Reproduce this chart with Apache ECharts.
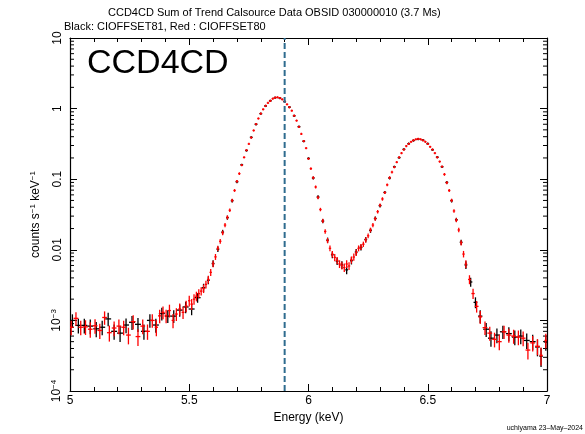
<!DOCTYPE html>
<html><head><meta charset="utf-8">
<script src="https://cdn.jsdelivr.net/npm/echarts@6/dist/echarts.min.js"></script>
<style>html,body{margin:0;padding:0;background:#fff}#c{width:585px;height:434px}</style>
</head><body><div id="c"></div>
<script>
const titleText = 'CCD4CD Sum of Trend Calsource Data OBSID 030000010 (3.7 Ms)';
const subText = 'Black: CIOFFSET81, Red : CIOFFSET80';
const panelLabel = 'CCD4CD';
const footerText = 'uchiyama 23\u2013May\u20132024';
const xName = 'Energy (keV)';
const xTicks = [5, 5.5, 6, 6.5, 7];
const yTicks = [1e-4, 1e-3, 0.01, 0.1, 1, 10];
const refLineE = 5.9;

// [energy keV, counts s^-1 keV^-1, half bin width keV, error %]
const redData = [
[5.005,8.0e-4,0.01,22],[5.025,1.07e-3,0.01,20],[5.045,8.0e-4,0.01,22],[5.065,8.1e-4,0.01,22],
[5.085,7.5e-4,0.01,23],[5.105,8.4e-4,0.01,22],[5.125,7.2e-4,0.01,23],[5.145,1.1e-3,0.01,20],
[5.165,6.7e-4,0.01,24],[5.185,7.8e-4,0.01,22],[5.205,8.3e-4,0.01,22],[5.225,8.0e-4,0.01,22],
[5.245,6.2e-4,0.01,25],[5.265,9.6e-4,0.01,21],[5.285,5.9e-4,0.01,25],[5.305,8.3e-4,0.01,22],
[5.325,7.0e-4,0.01,23],[5.345,1.0e-3,0.01,20],[5.362,8.0e-4,0.007,24],[5.376,1.16e-3,0.007,20],
[5.39,1.3e-3,0.007,19],[5.403,1.16e-3,0.006,20],[5.417,1.38e-3,0.006,19],[5.432,1.0e-3,0.006,21],
[5.446,1.23e-3,0.006,19],[5.46,1.45e-3,0.006,18],[5.474,1.3e-3,0.006,18],[5.487,1.6e-3,0.006,17],
[5.5,1.9e-3,0.005,16],[5.51,1.7e-3,0.005,16],[5.52,2.0e-3,0.005,15],[5.53,2.2e-3,0.005,14],
[5.54,2.4e-3,0.005,13],[5.55,2.6e-3,0.005,12],
[5.56,0.00282,0.005,12],[5.57,0.00324,0.005,11],[5.58,0.0038,0.005,11],[5.59,0.00479,0.005,10],
[5.60,0.00631,0.005,9],[5.61,0.00794,0.005,8],[5.62,0.0105,0.005,7],[5.63,0.0132,0.005,6],
[5.64,0.0174,0.005,6],[5.65,0.0224,0.005,5],[5.66,0.0288,0.005,5],[5.67,0.0363,0.005,4],
[5.68,0.0501,0.005,4],[5.69,0.0692,0.005,3],[5.70,0.0933,0.005,3],[5.71,0.120,0.005,3],
[5.72,0.158,0.005,2],[5.73,0.204,0.005,2],[5.74,0.257,0.005,2],[5.75,0.316,0.005,2],
[5.76,0.389,0.005,2],[5.77,0.490,0.005,2],[5.78,0.603,0.005,2],[5.79,0.724,0.005,2],
[5.80,0.851,0.005,2],[5.81,0.977,0.005,2],[5.82,1.096,0.005,2],[5.83,1.202,0.005,2],
[5.84,1.288,0.005,2],[5.85,1.380,0.005,2],[5.86,1.429,0.005,2],[5.87,1.445,0.005,2],
[5.88,1.413,0.005,2],[5.89,1.349,0.005,2],[5.90,1.259,0.005,2],[5.91,1.148,0.005,2],
[5.92,1.047,0.005,2],[5.93,0.933,0.005,2],[5.94,0.794,0.005,2],[5.95,0.676,0.005,2],
[5.96,0.550,0.005,2],[5.97,0.437,0.005,2],[5.98,0.347,0.005,2],[5.99,0.275,0.005,2],
[6.00,0.195,0.005,2],[6.01,0.141,0.005,3],[6.02,0.105,0.005,3],[6.03,0.0776,0.005,3],
[6.04,0.0550,0.005,4],[6.05,0.0372,0.005,4],[6.06,0.0257,0.005,5],[6.07,0.0182,0.005,6],
[6.08,0.0135,0.005,7],[6.09,0.0105,0.005,8],[6.10,0.0087,0.005,9],[6.11,0.0078,0.005,10],
[6.12,0.0071,0.005,10],[6.13,0.0063,0.005,11],[6.14,0.0060,0.005,11],[6.15,0.0056,0.005,12],
[6.16,0.0063,0.005,11],[6.17,0.0059,0.005,11],[6.18,0.0072,0.005,10],[6.19,0.0079,0.005,10],
[6.20,0.0091,0.005,9],[6.21,0.0105,0.005,8],[6.22,0.0110,0.005,8],[6.23,0.0120,0.005,7],
[6.24,0.0138,0.005,7],[6.25,0.0158,0.005,6],[6.26,0.0191,0.005,6],[6.27,0.0224,0.005,5],
[6.28,0.0275,0.005,5],[6.29,0.0347,0.005,4],[6.30,0.0427,0.005,4],[6.31,0.0525,0.005,4],
[6.32,0.0646,0.005,3],[6.33,0.0832,0.005,3],[6.34,0.105,0.005,3],[6.35,0.126,0.005,3],
[6.36,0.148,0.005,2],[6.37,0.174,0.005,2],[6.38,0.204,0.005,2],[6.39,0.234,0.005,2],
[6.40,0.263,0.005,2],[6.41,0.295,0.005,2],[6.42,0.316,0.005,2],[6.43,0.339,0.005,2],
[6.44,0.355,0.005,2],[6.45,0.367,0.005,2],[6.46,0.372,0.005,2],[6.47,0.367,0.005,2],
[6.48,0.355,0.005,2],[6.49,0.339,0.005,2],[6.50,0.316,0.005,2],[6.51,0.288,0.005,2],
[6.52,0.263,0.005,2],[6.53,0.234,0.005,2],[6.54,0.204,0.005,2],[6.55,0.178,0.005,2],
[6.56,0.151,0.005,2],[6.57,0.117,0.005,3],[6.58,0.0891,0.005,3],[6.59,0.0692,0.005,3],
[6.60,0.0501,0.005,4],[6.61,0.0355,0.005,4],[6.62,0.0263,0.005,5],[6.63,0.0191,0.005,6],
[6.64,0.0126,0.005,7],[6.65,0.0087,0.005,9],[6.66,0.0063,0.005,11],
[6.675,0.0038,0.006,13],[6.69,0.0024,0.007,15],[6.705,0.00158,0.008,17],[6.72,0.00112,0.008,19],
[6.74,0.00079,0.01,20],[6.76,0.00066,0.01,21],[6.78,0.00054,0.01,22],[6.80,0.00050,0.01,23],
[6.82,0.00069,0.01,20],[6.84,0.00062,0.01,21],[6.86,0.00060,0.01,21],[6.88,0.00058,0.01,22],
[6.90,0.00056,0.01,22],[6.92,0.00038,0.01,25],[6.94,0.00048,0.01,23],[6.96,0.00043,0.01,24],
[6.975,0.00032,0.007,27],[6.995,0.00052,0.006,22]
];

const blackData = [
[5.01,1.0e-3,0.0125,20],[5.035,8.5e-4,0.0125,22],[5.06,8.5e-4,0.0125,22],[5.085,8.3e-4,0.0125,22],
[5.11,7.6e-4,0.0125,23],[5.135,8.0e-4,0.0125,22],[5.16,1.05e-3,0.0125,20],[5.185,7.0e-4,0.0125,23],
[5.21,6.6e-4,0.0125,24],[5.235,8.6e-4,0.0125,22],[5.26,9.4e-4,0.0125,21],[5.285,8.8e-4,0.0125,21],
[5.31,7.0e-4,0.0125,23],[5.335,1.0e-3,0.0125,20],[5.36,8.6e-4,0.0125,21],[5.385,1.25e-3,0.0125,19],
[5.41,1.15e-3,0.0125,19],[5.435,1.15e-3,0.0125,19],[5.46,1.4e-3,0.0125,18],[5.485,1.55e-3,0.0125,17],
[5.51,1.45e-3,0.0125,17],[5.535,2.1e-3,0.0125,14],[5.56,2.9e-3,0.008,12],
[5.58,0.0037,0.006,11],[5.60,0.0064,0.006,9],[5.62,0.0102,0.006,7],[5.64,0.0178,0.006,6],
[5.66,0.0285,0.006,5],[5.68,0.0495,0.006,4],[5.70,0.092,0.006,3],[5.72,0.160,0.006,2],
[5.74,0.255,0.006,2],[5.76,0.392,0.006,2],[5.78,0.600,0.006,2],[5.80,0.848,0.006,2],
[5.82,1.09,0.006,2],[5.84,1.29,0.006,2],[5.86,1.43,0.006,2],[5.88,1.41,0.006,2],
[5.90,1.26,0.006,2],[5.92,1.05,0.006,2],[5.94,0.79,0.006,2],[5.96,0.555,0.006,2],
[5.98,0.345,0.006,2],[6.00,0.197,0.006,2],[6.02,0.104,0.006,3],[6.04,0.056,0.006,4],
[6.06,0.0255,0.006,5],[6.08,0.0137,0.006,7],[6.10,0.0085,0.006,9],[6.12,0.0069,0.006,10],
[6.14,0.0061,0.006,11],[6.16,0.0052,0.006,12],[6.18,0.0070,0.006,10],[6.20,0.0093,0.006,9],
[6.22,0.0108,0.006,8],[6.24,0.0140,0.006,7],[6.26,0.0188,0.006,6],[6.28,0.0278,0.006,5],
[6.30,0.0422,0.006,4],[6.32,0.0650,0.006,3],[6.34,0.104,0.006,3],[6.36,0.150,0.006,2],
[6.38,0.202,0.006,2],[6.40,0.265,0.006,2],[6.42,0.318,0.006,2],[6.44,0.353,0.006,2],
[6.46,0.370,0.006,2],[6.48,0.357,0.006,2],[6.50,0.318,0.006,2],[6.52,0.261,0.006,2],
[6.54,0.205,0.006,2],[6.56,0.150,0.006,2],[6.58,0.090,0.006,3],[6.60,0.0495,0.006,4],
[6.62,0.0266,0.006,5],[6.64,0.0128,0.006,7],[6.66,0.0061,0.006,11],
[6.68,0.0035,0.007,13],[6.70,0.0018,0.008,16],[6.72,0.00115,0.009,19],[6.745,0.00075,0.0125,21],
[6.765,0.00056,0.0125,23],[6.79,0.00062,0.0125,22],[6.815,0.00069,0.0125,20],[6.84,0.00065,0.0125,21],
[6.865,0.00058,0.0125,22],[6.89,0.00060,0.0125,22],[6.915,0.00052,0.0125,23],[6.94,0.00050,0.0125,23],
[6.96,0.00042,0.01,25],[6.975,0.00031,0.007,28],[6.995,0.00049,0.006,23]
];

const FONT = '"Liberation Sans", Arial, Helvetica, sans-serif';

function errRender(color) {
  return function (params, api) {
    const e = api.value(0), v = api.value(1), de = api.value(2), dv = api.value(3) / 100;
    const l = api.coord([e - de, v]), r = api.coord([e + de, v]);
    const t = api.coord([e, v * (1 + dv)]), b = api.coord([e, v * (1 - dv)]);
    const st = { stroke: color, lineWidth: 1.3 };
    return { type: 'group', children: [
      { type: 'line', shape: { x1: l[0], y1: l[1], x2: r[0], y2: r[1] }, style: st },
      { type: 'line', shape: { x1: t[0], y1: t[1] - 0.5, x2: b[0], y2: b[1] + 0.5 }, style: st }
    ]};
  };
}

// minor ticks of log axis (2..9 x 10^k), axis decoration
const yMinor = [];
for (let k = -4; k < 1; k++) for (let m = 2; m <= 9; m++) yMinor.push([5, m * Math.pow(10, k)]);

function supLabel(v) {
  const p = Math.round(Math.log10(v));
  if (p >= -2) return '{b|' + ({1:'10',0:'1','-1':'0.1','-2':'0.01'})[p] + '}';
  return '{b|10}{s|' + (p === -3 ? '\u22123' : '\u22124') + '}';
}

const chart = echarts.init(document.getElementById('c'), null, { renderer: 'canvas' });
const grid = { left: 70, right: 38, top: 38, bottom: 43 };
const axisLine = { show: true, lineStyle: { color: '#000', width: 1.2 } };
chart.setOption({
  animation: false,
  backgroundColor: '#fff',
  grid: grid,
  graphic: [
    { type: 'text', left: 108, top: 7, style: { text: titleText, font: '11px ' + FONT, fill: '#000' } },
    { type: 'text', left: 64, top: 21, style: { text: subText, font: '11px ' + FONT, fill: '#000' } },
    { type: 'text', left: 87, top: 47, style: { text: panelLabel, font: '34px ' + FONT, fill: '#000' } },
    { type: 'text', right: 2, top: 425, style: { text: footerText, font: '7px ' + FONT, fill: '#000' } }
  ],
  xAxis: [
    { type: 'value', min: xTicks[0], max: xTicks[xTicks.length - 1], interval: 0.5, position: 'bottom',
      name: xName, nameLocation: 'middle', nameGap: 20,
      nameTextStyle: { fontFamily: FONT, fontSize: 12, color: '#000' },
      axisLine: axisLine, splitLine: { show: false },
      axisTick: { inside: true, length: 7, lineStyle: { color: '#000' } },
      minorTick: { show: true, splitNumber: 5, length: 4, lineStyle: { color: '#000' } },
      axisLabel: { fontFamily: FONT, fontSize: 12, color: '#000', margin: 4,
        formatter: v => String(v) } },
    { type: 'value', min: xTicks[0], max: xTicks[xTicks.length - 1], interval: 0.5, position: 'top',
      axisLine: axisLine, splitLine: { show: false },
      axisTick: { inside: true, length: 7, lineStyle: { color: '#000' } },
      minorTick: { show: true, splitNumber: 5, length: 4, lineStyle: { color: '#000' } },
      axisLabel: { show: false } }
  ],
  yAxis: [
    { type: 'log', logBase: 10, min: yTicks[0], max: yTicks[yTicks.length - 1], position: 'left',
      name: 'counts s{s|\u22121} keV{s|\u22121}', nameLocation: 'middle', nameGap: 27,
      nameTextStyle: { fontFamily: FONT, fontSize: 12, color: '#000',
        rich: { s: { fontFamily: FONT, fontSize: 8, color: '#000', padding: [0, 0, 6, 0] } } },
      axisLine: axisLine, splitLine: { show: false },
      axisTick: { inside: true, length: 7, lineStyle: { color: '#000' } },
      axisLabel: { rotate: 90, margin: 6, formatter: supLabel,
        rich: { b: { fontFamily: FONT, fontSize: 12, color: '#000' },
                s: { fontFamily: FONT, fontSize: 8, color: '#000', padding: [0, 0, 6, 0] } } } },
    { type: 'log', logBase: 10, min: yTicks[0], max: yTicks[yTicks.length - 1], position: 'right',
      axisLine: axisLine, splitLine: { show: false },
      axisTick: { inside: true, length: 7, lineStyle: { color: '#000' } },
      axisLabel: { show: false } }
  ],
  series: [
    { type: 'custom', name: 'yMinorTicks', xAxisIndex: 0, yAxisIndex: 0, data: yMinor, silent: true,
      renderItem: function (params, api) {
        const p = api.coord([api.value(0), api.value(1)]);
        const cs = params.coordSys;
        const st = { stroke: '#000', lineWidth: 1 };
        return { type: 'group', children: [
          { type: 'line', shape: { x1: cs.x, y1: p[1], x2: cs.x + 4, y2: p[1] }, style: st },
          { type: 'line', shape: { x1: cs.x + cs.width, y1: p[1], x2: cs.x + cs.width - 4, y2: p[1] }, style: st }
        ]};
      } },
    { type: 'custom', name: 'CIOFFSET81', xAxisIndex: 0, yAxisIndex: 0, data: blackData,
      renderItem: errRender('#000000'), clip: true, z: 3 },
    { type: 'custom', name: 'CIOFFSET80', xAxisIndex: 0, yAxisIndex: 0, data: redData,
      renderItem: errRender('#ff0000'), clip: true, z: 4 },
    { type: 'line', name: 'ref', xAxisIndex: 0, yAxisIndex: 0, symbol: 'none', z: 5,
      data: [[refLineE, yTicks[0]], [refLineE, yTicks[yTicks.length - 1]]],
      lineStyle: { color: '#2f6c8f', width: 2, type: [6, 3] } }
  ]
});
</script></body></html>
